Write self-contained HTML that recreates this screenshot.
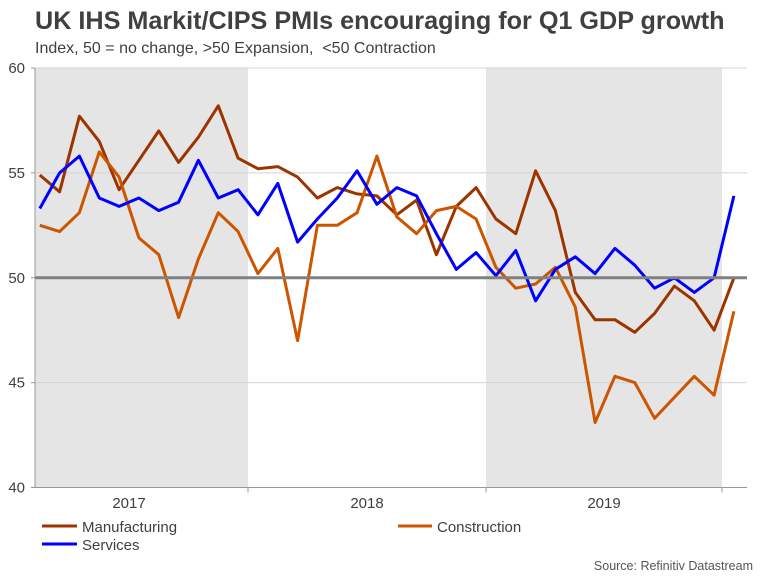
<!DOCTYPE html>
<html><head><meta charset="utf-8"><style>
html,body{margin:0;padding:0;background:#fff;}
svg{display:block;font-family:"Liberation Sans",Arial,sans-serif;}
</style></head><body>
<svg id="chart" width="768" height="576" viewBox="0 0 768 576" xmlns="http://www.w3.org/2000/svg">
<text x="35" y="29" font-size="25.2" font-weight="bold" fill="#404040">UK IHS Markit/CIPS PMIs encouraging for Q1 GDP growth</text>
<text x="35" y="53" font-size="16" fill="#404040">Index, 50 = no change, &gt;50 Expansion, &#160;&lt;50 Contraction</text>
<g id="shading"></g>
<g id="grid"></g>
<g id="series"></g>
<g id="axes"></g>
<g>
 <line x1="42" y1="526" x2="77" y2="526" stroke="#9c3400" stroke-width="3"/>
 <text x="82" y="532" font-size="15" fill="#404040">Manufacturing</text>
 <line x1="398" y1="526" x2="432" y2="526" stroke="#cc5500" stroke-width="3"/>
 <text x="437" y="532" font-size="15" fill="#404040">Construction</text>
 <line x1="42" y1="544" x2="77" y2="544" stroke="#0000ff" stroke-width="3"/>
 <text x="82" y="550" font-size="15" fill="#404040">Services</text>
</g>
<text x="753" y="570" font-size="12.5" fill="#555" text-anchor="end">Source: Refinitiv Datastream</text>
</svg>
<script>
const yearLabels = ["2017","2018","2019"];
const yTicks = [40,45,50,55,60];
const manufacturing = [54.9,54.1,57.7,56.5,54.2,55.6,57.0,55.5,56.7,58.2,55.7,55.2,55.3,54.8,53.8,54.3,54.0,53.9,53.0,53.7,51.1,53.4,54.3,52.8,52.1,55.1,53.2,49.3,48.0,48.0,47.4,48.3,49.6,48.9,47.5,50.0];
const services = [53.3,55.0,55.8,53.8,53.4,53.8,53.2,53.6,55.6,53.8,54.2,53.0,54.5,51.7,52.8,53.8,55.1,53.5,54.3,53.9,52.1,50.4,51.2,50.1,51.3,48.9,50.4,51.0,50.2,51.4,50.6,49.5,50.0,49.3,50.0,53.9];
const construction = [52.5,52.2,53.1,56.0,54.8,51.9,51.1,48.1,50.9,53.1,52.2,50.2,51.4,47.0,52.5,52.5,53.1,55.8,52.9,52.1,53.2,53.4,52.8,50.5,49.5,49.7,50.5,48.6,43.1,45.3,45.0,43.3,44.3,45.3,44.4,48.4];

const NS="http://www.w3.org/2000/svg";
const L=35,R=747,T=68,B=487.5;
const yMin=40,yMax=60;
const monthW=(486-248)/12;
const firstOffset=1;
function xPos(i){return 248-12*monthW+(i+firstOffset+0.5)*monthW;}
function yPos(v){return B-(v-yMin)/(yMax-yMin)*(B-T);}
function mk(tag,attrs,parent){const e=document.createElementNS(NS,tag);for(const k in attrs)e.setAttribute(k,attrs[k]);parent.appendChild(e);return e;}

const shading=document.getElementById('shading');
const yb=[L,248,486,722];
[[0,1],[2,3]].forEach((p,j)=>{
 const r=mk('rect',{x:yb[p[0]],y:T,width:yb[p[1]]-yb[p[0]],height:B-T,fill:'#e5e5e5'},shading);
 
 
});

const grid=document.getElementById('grid');
yTicks.forEach(v=>{
 if(v===40||v===50)return;
 const g=mk('line',{x1:L,x2:R,y1:yPos(v),y2:yPos(v),stroke:'#d4d4d4','stroke-width':1},grid);
 
 
});

const series=document.getElementById('series');
[[manufacturing,'#9c3400','manufacturing-line'],[construction,'#cc5500','construction-line'],[services,'#0000ff','services-line']].forEach(s=>{
 const pts=s[0].map((v,i)=>xPos(i).toFixed(1)+','+yPos(v).toFixed(1)).join(' ');
 const pl=mk('polyline',{points:pts,fill:'none',stroke:s[1],'stroke-width':3,'stroke-linejoin':'round'},series);
 
 
});

const axes=document.getElementById('axes');
const ref=mk('line',{x1:L,x2:R,y1:yPos(50),y2:yPos(50),stroke:'#808080','stroke-width':3},axes);


const yax=mk('line',{x1:L,x2:L,y1:T,y2:B,stroke:'#999','stroke-width':1},axes);


const xax=mk('line',{x1:L,x2:R,y1:B,y2:B,stroke:'#999','stroke-width':1},axes);


yTicks.forEach(v=>{
 const t=mk('line',{x1:L-4,x2:L,y1:yPos(v),y2:yPos(v),stroke:'#999'},axes);
 
 
 const tx=mk('text',{x:25,y:yPos(v)+5,'font-size':15,fill:'#404040','text-anchor':'end'},axes);
 tx.textContent=v;
 
 
});
[248,486,722].forEach((x,i)=>{
 const t=mk('line',{x1:x,x2:x,y1:B,y2:B+5,stroke:'#999'},axes);
 
 
});
yearLabels.forEach((y,i)=>{
 const cx=(yb[i]===L?248-6*monthW:(yb[i]+yb[i+1])/2);
 const tx=mk('text',{x:cx,y:508,'font-size':15,fill:'#404040','text-anchor':'middle'},axes);
 tx.textContent=y;
 
 
});
</script>
</body></html>
